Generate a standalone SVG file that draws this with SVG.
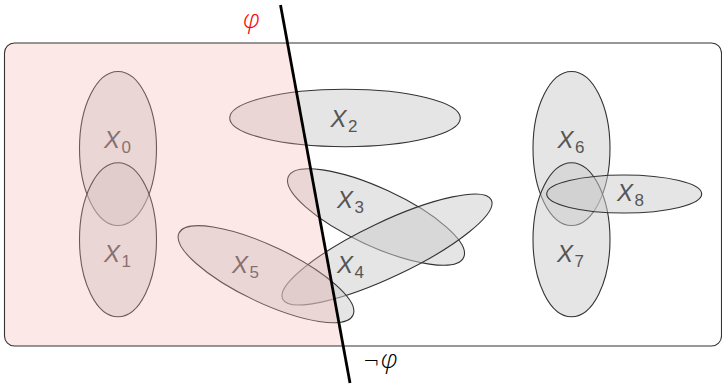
<svg xmlns="http://www.w3.org/2000/svg" width="722" height="384" viewBox="0 0 722 384">
<style>
.set{fill:#cccccc;fill-opacity:0.5;stroke:#333;stroke-width:1.1}
.lbl{font-family:"Liberation Sans",Arial,sans-serif;font-style:italic;font-size:24px;fill:#555}
.sub{font-size:17px;font-style:normal}
.phi{font-family:"Open Sans","Liberation Sans",sans-serif;font-style:italic;font-weight:300;font-size:26px}
.neg{font-family:"DejaVu Sans",sans-serif;font-weight:300;font-size:20px}
</style>
<defs>
<clipPath id="boxclip"><rect x="4.5" y="43" width="717" height="303" rx="10" ry="10"/></clipPath>
</defs>
<rect x="0" y="0" width="722" height="384" fill="#fff"/>
<g id="X0"><ellipse class="set" cx="118" cy="148.5" rx="38.5" ry="77"/><text class="lbl" x="104" y="148">X<tspan class="sub" dx="1.5" dy="5">0</tspan></text></g>
<g id="X1"><ellipse class="set" cx="118" cy="239.7" rx="38.5" ry="77"/><text class="lbl" x="104" y="262">X<tspan class="sub" dx="1.5" dy="5">1</tspan></text></g>
<g id="X2"><ellipse class="set" cx="345" cy="118" rx="115.3" ry="28.7"/><text class="lbl" x="330.5" y="127">X<tspan class="sub" dx="1.5" dy="5">2</tspan></text></g>
<g id="X3"><ellipse class="set" transform="translate(376 217) rotate(24.8)" cx="0" cy="0" rx="96.5" ry="28.8"/><text class="lbl" x="337" y="208">X<tspan class="sub" dx="1.5" dy="5">3</tspan></text></g>
<g id="X4"><ellipse class="set" transform="translate(387 249.5) rotate(-25.4)" cx="0" cy="0" rx="115.5" ry="27.5"/><text class="lbl" x="337" y="273">X<tspan class="sub" dx="1.5" dy="5">4</tspan></text></g>
<g id="X5"><ellipse class="set" transform="translate(266 274.2) rotate(25.3)" cx="0" cy="0" rx="96.2" ry="28.4"/><text class="lbl" x="232" y="273">X<tspan class="sub" dx="1.5" dy="5">5</tspan></text></g>
<g id="X6"><ellipse class="set" cx="571.5" cy="148.5" rx="38.5" ry="77"/><text class="lbl" x="557.5" y="148">X<tspan class="sub" dx="1.5" dy="5">6</tspan></text></g>
<g id="X7"><ellipse class="set" cx="571.5" cy="239.7" rx="38.5" ry="77"/><text class="lbl" x="557" y="262">X<tspan class="sub" dx="1.5" dy="5">7</tspan></text></g>
<g id="X8"><ellipse class="set" cx="624.2" cy="194" rx="77.5" ry="19"/><text class="lbl" x="617" y="201">X<tspan class="sub" dx="1.5" dy="5">8</tspan></text></g>
<g id="phi-region">
<polygon points="0,0 279.6,0 351.3,390 0,390" fill="rgb(250,180,180)" fill-opacity="0.3" clip-path="url(#boxclip)"/>
</g>
<g id="box"><rect x="4.5" y="43" width="717" height="303" rx="10" ry="10" fill="none" stroke="#333" stroke-width="1.1"/></g>
<g id="connectors">
<line x1="280.5" y1="5" x2="350" y2="383" stroke="#000" stroke-width="2.8"/>
</g>
<text class="phi" x="243" y="28" fill="#ff0000">φ</text>
<text class="neg" x="363" y="368" fill="#000">¬<tspan class="phi" dx="1">φ</tspan></text>
</svg>
